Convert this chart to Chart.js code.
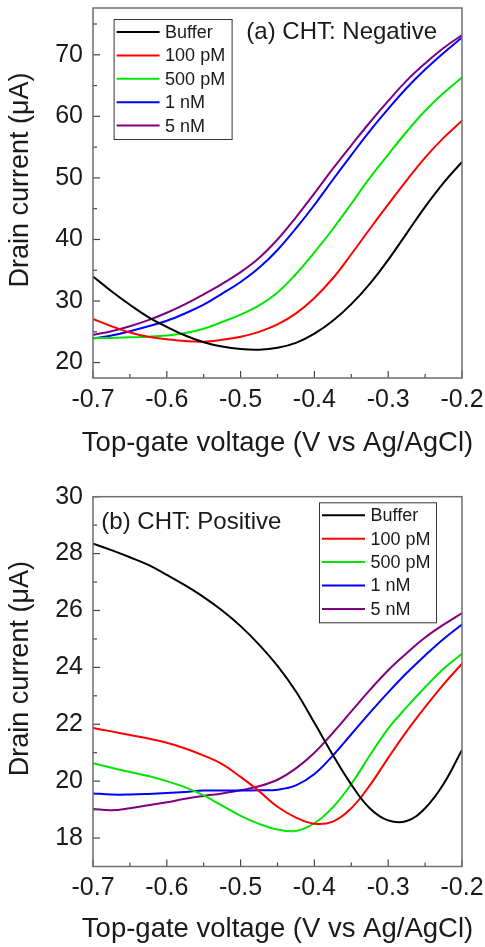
<!DOCTYPE html>
<html>
<head>
<meta charset="utf-8">
<script src="https://cdn.jsdelivr.net/npm/chart.js@4.4.1/dist/chart.umd.min.js"></script>
<style>
  html, body { margin: 0; padding: 0; background: #fff; overflow: hidden; }
  .panel { position: absolute; left: 0; width: 485px; }
  #panelA { top: 0; height: 458px; }
  #panelB { top: 458px; height: 486px; }
</style>
</head>
<body>
<div class="panel" id="panelA"><canvas id="chartA"></canvas></div>
<div class="panel" id="panelB"><canvas id="chartB"></canvas></div>
<script>
// gate voltage (V vs Ag/AgCl)
const voltage = [-0.7, -0.675, -0.65, -0.625, -0.6, -0.575, -0.55, -0.525, -0.5, -0.475, -0.45,
                 -0.425, -0.4, -0.375, -0.35, -0.325, -0.3, -0.275, -0.25, -0.225, -0.2];
const labels = ['Buffer', '100 pM', '500 pM', '1 nM', '5 nM'];
const colors = ['#000000', '#ff0000', '#00e600', '#0000ff', '#800080'];
const xTicks = [-0.7, -0.6, -0.5, -0.4, -0.3, -0.2];
const yTicksA = [20, 30, 40, 50, 60, 70];
const yTicksB = [18, 20, 22, 24, 26, 28, 30];

// (a) CHT: Negative - drain current (uA)
const bufferA = [34.0, 31.6, 29.4, 27.4, 25.8, 24.4, 23.3, 22.6, 22.2, 22.1, 22.4, 23.2, 24.7, 26.8, 29.5, 32.8, 36.7, 41.0, 45.3, 49.2, 52.6];
const pm100A  = [27.1, 25.9, 24.9, 24.2, 23.8, 23.5, 23.4, 23.7, 24.2, 25.0, 26.2, 28.0, 30.5, 33.7, 37.6, 41.7, 45.7, 49.6, 53.3, 56.5, 59.3];
const pm500A  = [24.0, 24.0, 24.1, 24.2, 24.4, 24.8, 25.5, 26.6, 27.8, 29.3, 31.4, 34.4, 37.9, 41.7, 45.8, 50.0, 53.8, 57.5, 60.9, 63.8, 66.3];
const nm1A    = [23.9, 24.4, 25.1, 25.9, 26.8, 28.0, 29.4, 31.2, 33.1, 35.4, 38.3, 41.8, 45.6, 49.7, 53.7, 57.6, 61.2, 64.6, 67.6, 70.3, 72.8];
const nm5A    = [24.5, 25.1, 25.9, 26.9, 28.1, 29.5, 31.1, 32.8, 34.7, 37.0, 40.0, 43.6, 47.5, 51.5, 55.3, 59.0, 62.5, 65.8, 68.6, 71.1, 73.2];

// (b) CHT: Positive - drain current (uA)
const bufferB = [28.35, 28.12, 27.87, 27.6, 27.25, 26.88, 26.47, 26.0, 25.45, 24.8, 24.05, 23.15, 22.05, 20.92, 19.88, 19.05, 18.62, 18.6, 19.05, 19.9, 21.1];
const pm100B  = [21.87, 21.75, 21.62, 21.5, 21.35, 21.15, 20.9, 20.6, 20.15, 19.65, 19.1, 18.72, 18.5, 18.58, 19.05, 19.85, 20.82, 21.75, 22.6, 23.4, 24.13];
const pm500B  = [20.63, 20.47, 20.32, 20.18, 20.0, 19.78, 19.5, 19.14, 18.78, 18.5, 18.3, 18.25, 18.52, 19.08, 19.9, 20.9, 21.85, 22.6, 23.3, 23.95, 24.48];
const nm1B    = [19.57, 19.53, 19.53, 19.55, 19.58, 19.62, 19.67, 19.67, 19.67, 19.68, 19.7, 19.85, 20.25, 20.9, 21.65, 22.4, 23.12, 23.8, 24.42, 25.0, 25.51];
const nm5B    = [19.02, 18.98, 19.05, 19.15, 19.26, 19.38, 19.48, 19.57, 19.68, 19.82, 20.05, 20.45, 21.0, 21.7, 22.45, 23.2, 23.9, 24.5, 25.05, 25.5, 25.91];

const FONT = '"Liberation Sans", Arial, sans-serif';
Chart.defaults.font.family = FONT;
Chart.defaults.color = '#1a1a1a';

// inward ticks (major + minor), grey frame and both axis titles
const frameTicks = {
    id: 'frameTicks',
    afterDatasetsDraw(chart, args, o) {
        const { ctx, chartArea: a, scales: { x, y } } = chart;
        ctx.save();
        ctx.strokeStyle = '#444';
        ctx.lineWidth = 1.2;
        const seg = (x1, y1, x2, y2) => { ctx.beginPath(); ctx.moveTo(x1, y1); ctx.lineTo(x2, y2); ctx.stroke(); };
        const minors = (scale) => {
            const v = scale.ticks.map(t => t.value);
            const out = [];
            const step = v[1] - v[0];
            for (let i = 0; i < v.length - 1; i++) out.push((v[i] + v[i + 1]) / 2);
            if (v[0] - step / 2 > scale.min) out.push(v[0] - step / 2);
            if (v[v.length - 1] + step / 2 < scale.max) out.push(v[v.length - 1] + step / 2);
            return out;
        };
        x.ticks.forEach(t => { const p = x.getPixelForValue(t.value); seg(p, a.bottom, p, a.bottom - 7); });
        minors(x).forEach(v => { const p = x.getPixelForValue(v); seg(p, a.bottom, p, a.bottom - 4); });
        y.ticks.forEach(t => { const p = y.getPixelForValue(t.value); seg(a.left, p, a.left + 7, p); });
        minors(y).forEach(v => { const p = y.getPixelForValue(v); seg(a.left, p, a.left + 4, p); });
        ctx.strokeStyle = '#6e6e6e';
        ctx.lineWidth = 1.5;
        ctx.strokeRect(a.left, a.top, a.width, a.height);

        ctx.fillStyle = '#1a1a1a';
        ctx.textAlign = 'center';
        ctx.font = '27.5px ' + FONT;
        ctx.textBaseline = 'alphabetic';
        ctx.fillText('Top-gate voltage (V vs Ag/AgCl)', (a.left + a.right) / 2, a.bottom + o.xTitleOffset);

        ctx.translate(21, (a.top + a.bottom) / 2 - 13);
        ctx.rotate(-Math.PI / 2);
        ctx.font = '27px ' + FONT;
        ctx.textBaseline = 'middle';
        ctx.fillText('Drain current (\u03bcA)', 0, 0);
        ctx.restore();
    }
};

// boxed legend and panel tag inside the plot
const boxLegend = {
    id: 'boxLegend',
    afterDraw(chart, args, o) {
        const { ctx, chartArea: a } = chart;
        const left = o.fromRight ? a.right - o.offX - o.w : a.left + o.offX;
        const top = a.top + o.offY;
        ctx.save();
        ctx.fillStyle = '#fff';
        ctx.fillRect(left, top, o.w, o.h);
        ctx.strokeStyle = '#333';
        ctx.lineWidth = 1;
        ctx.strokeRect(left + 0.5, top + 0.5, o.w, o.h);
        ctx.font = '18px ' + FONT;
        ctx.textBaseline = 'middle';
        chart.data.datasets.forEach((ds, i) => {
            const cy = top + 13 + i * 23.4;
            ctx.strokeStyle = ds.borderColor;
            ctx.lineWidth = 2;
            ctx.beginPath(); ctx.moveTo(left + 3, cy); ctx.lineTo(left + 46, cy); ctx.stroke();
            ctx.fillStyle = '#1a1a1a';
            ctx.fillText(ds.label, left + 51.5, cy + 1);
        });
        ctx.font = '24px ' + FONT;
        ctx.fillText(o.tag, a.left + o.tagX, a.top + o.tagY);
        ctx.restore();
    }
};

const useTicks = list => scale => { scale.ticks = list.map(v => ({ value: v })); };
const noPad = s => { s.paddingLeft = 0; s.paddingRight = 0; s.paddingTop = 0; s.paddingBottom = 0; };

function makeChart(id, series, yMin, yMax, yTicks, pad, xHeight, xTitleOffset, legendOpts) {
    const ctx = document.getElementById(id).getContext('2d');
    return new Chart(ctx, {
        type: 'line',
        data: {
            datasets: series.map((vals, i) => ({
                label: labels[i],
                data: voltage.map((v, k) => ({ x: v, y: vals[k] })),
                borderColor: colors[i],
                borderWidth: 2,
                pointRadius: 0,
                tension: 0.4,
                fill: false
            }))
        },
        options: {
            responsive: true,
            maintainAspectRatio: false,
            animation: false,
            layout: { padding: { top: pad, right: 23, left: 0, bottom: 0 } },
            scales: {
                x: {
                    type: 'linear',
                    min: -0.7,
                    max: -0.2,
                    grid: { display: false, drawTicks: false },
                    border: { display: false },
                    afterBuildTicks: useTicks(xTicks),
                    ticks: {
                        autoSkip: false,
                        maxRotation: 0,
                        padding: 7,
                        font: { size: 25 },
                        callback: v => Number(v).toFixed(1)
                    },
                    title: { display: false },
                    afterFit: s => { s.height = xHeight; noPad(s); }
                },
                y: {
                    min: yMin,
                    max: yMax,
                    grid: { display: false, drawTicks: false },
                    border: { display: false },
                    afterBuildTicks: useTicks(yTicks),
                    ticks: {
                        padding: 10,
                        font: { size: 25 }
                    },
                    title: { display: false },
                    afterFit: s => { s.width = 93; noPad(s); }
                }
            },
            plugins: {
                legend: { display: false },
                tooltip: { enabled: false },
                frameTicks: { xTitleOffset: xTitleOffset },
                boxLegend: legendOpts
            }
        },
        plugins: [frameTicks, boxLegend]
    });
}

makeChart('chartA', [bufferA, pm100A, pm500A, nm1A, nm5A], 17.5, 77.6, yTicksA, 8, 80, 72.5,
    { fromRight: false, offX: 20.6, offY: 11, w: 118, h: 120, tag: '(a) CHT: Negative', tagX: 153.3, tagY: 24.5 });

makeChart('chartB', [bufferB, pm100B, pm500B, nm1B, nm5B], 17, 30, yTicksB, 38.7, 77.5, 70,
    { fromRight: true, offX: 26, offY: 5.6, w: 117, h: 120, tag: '(b) CHT: Positive', tagX: 8.3, tagY: 25.5 });
</script>
</body>
</html>
